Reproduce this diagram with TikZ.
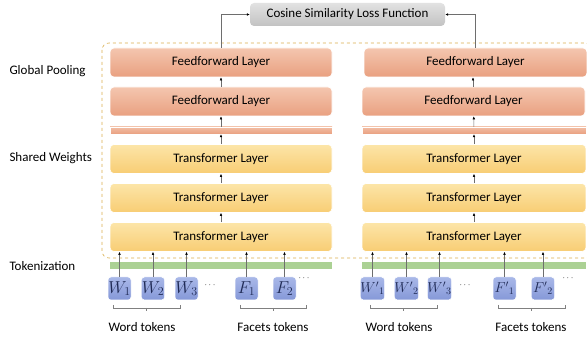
\documentclass[tikz,border=0pt]{standalone}
\usepackage{fontspec}
\setmainfont{Carlito}
\definecolor{ffTop}{HTML}{F4C6AF}
\definecolor{ffBot}{HTML}{E9A080}
\definecolor{trTop}{HTML}{FCE5A8}
\definecolor{trBot}{HTML}{F8CD74}
\definecolor{tkTop}{HTML}{A9B8E8}
\definecolor{tkBot}{HTML}{8598D8}
\definecolor{tkText}{HTML}{1F2A55}
\definecolor{tokbar}{HTML}{ABD194}
\definecolor{cosTop}{HTML}{E2E2E2}
\definecolor{cosBot}{HTML}{C2C2C2}
\definecolor{dashbox}{HTML}{D9AE4C}
\definecolor{arrowgray}{HTML}{6E6E6E}
\tikzset{
	layer/.style={rounded corners=4pt, draw=white, line width=0.6pt, inner sep=0pt, minimum width=222, minimum height=29, font=\fontsize{13}{15}\selectfont},
	fflayer/.style={layer, top color=ffTop, bottom color=ffBot},
	trlayer/.style={layer, top color=trTop, bottom color=trBot},
	poolbar/.style={draw=white, line width=0.4pt, inner sep=0pt, minimum width=222, minimum height=7, top color=ffTop!80!ffBot, bottom color=ffBot},
	greenbar/.style={fill=tokbar, inner sep=0pt, minimum width=222, minimum height=7},
	token/.style={rounded corners=3pt, draw=white, line width=0.5pt, inner sep=0pt, minimum size=23, top color=tkTop, bottom color=tkBot, text=tkText, font=\fontsize{17}{19}\selectfont},
	ptoken/.style={token, font=\fontsize{14.5}{17}\selectfont},
	flow/.style={draw=arrowgray, line width=0.5pt, -{Latex[length=3pt,width=2.6pt,black]}},
	bracket/.style={draw=gray, line width=0.5pt},
	label/.style={font=\fontsize{13}{15}\selectfont}
}
\usetikzlibrary{arrows.meta}
\begin{document}
\begin{tikzpicture}[x=1pt, y=-1pt]
	\useasboundingbox (0,0) rectangle (587,339);
	% outer dashed frame
	\draw[dashbox, dashed, line width=0.6pt, rounded corners=7pt] (102,43) rectangle (592,258);

	\node[rounded corners=4pt, inner sep=0pt, minimum width=195, minimum height=23, top color=cosTop, bottom color=cosBot, font=\fontsize{13}{15}\selectfont] (cos) at (347.5,14.5) {Cosine Similarity Loss Function};

	\node[label, anchor=west] (pool) at (6,71) {Global Pooling};
	\node[label, anchor=west] (shared) at (6,158) {Shared Weights};
	\node[label, anchor=west] (tokz) at (6,266) {Tokenization};

	% left tower
	\node[fflayer] (ffA) at (221,62.5) {Feedforward Layer};
	\node[fflayer] (ffB) at (221,101.5) {Feedforward Layer};
	\node[poolbar] (pl) at (221,130.5) {};
	\node[trlayer] (trA) at (221,159) {Transformer Layer};
	\node[trlayer] (trB) at (221,198) {Transformer Layer};
	\node[trlayer] (trC) at (221,237) {Transformer Layer};
	\node[greenbar] (gl) at (221,265.5) {};

	% right tower
	\node[fflayer, minimum width=223] (ffA') at (475.5,62.5) {Feedforward Layer};
	\node[fflayer, minimum width=223] (ffB') at (473.5,101.5) {Feedforward Layer};
	\node[poolbar, minimum width=224] (pl') at (474,130.5) {};
	\node[trlayer, minimum width=224] (trA') at (474,159) {Transformer Layer};
	\node[trlayer, minimum width=224] (trB') at (474,198) {Transformer Layer};
	\node[trlayer, minimum width=224] (trC') at (474,237) {Transformer Layer};
	\node[greenbar, minimum width=224] (gr) at (474,265.5) {};

	% tokens
	\node[token] (w1) at (119.5,288.5) {$W_1$};
	\node[token] (w2) at (153,288.5) {$W_2$};
	\node[token] (w3) at (186.5,288.5) {$W_3$};
	\node[token] (f1) at (246.5,288.5) {$F_1$};
	\node[token] (f2) at (284.5,288.5) {$F_2$};
	\node[ptoken] (w1') at (372.5,288.5) {$W'{}_1$};
	\node[ptoken] (w2') at (406.5,288.5) {$W'{}_2$};
	\node[ptoken] (w3') at (439.5,288.5) {$W'{}_3$};
	\node[ptoken] (f1') at (504.5,288.5) {$F'{}_1$};
	\node[ptoken] (f2') at (543,288.5) {$F'{}_2$};
	\node[font=\small] (d1) at (210,285) {$\cdots$};
	\node[font=\small] (d2) at (304,278) {$\cdots$};
	\node[font=\small] (d3) at (465,285) {$\cdots$};
	\node[font=\small] (d4) at (568,278) {$\cdots$};

	% token arrows
	\foreach \t in {w1,w2,w3,f1,f2}
		\draw[flow] (\t.north) -- (\t.north |- trC.south);
	\foreach \t in {w1',w2',w3',f1',f2'}
		\draw[flow] (\t.north) -- (\t.north |- trC'.south);

	% layer arrows
	\draw[flow] (trC) -- (trB);
	\draw[flow] (trB) -- (trA);
	\draw[flow] (trA) -- (pl);
	\draw[flow] (pl) -- (ffB);
	\draw[flow] (ffB) -- (ffA);
	\draw[flow] (trC') -- (trB');
	\draw[flow] (trB') -- (trA');
	\draw[flow] (trA') -- (pl');
	\draw[flow] (pl') -- (ffB');
	\draw[flow] ([xshift=-0.5pt]ffB'.north) -- ([xshift=-0.5pt]ffB'.north |- ffA'.south);
	\draw[flow] (ffA.north) |- (cos.west);
	\draw[flow] (ffA'.north) |- (cos.east);

	% brackets
	\draw[bracket] (113,305) -- (113,308) -- (180,308) -- (180,305) (146.5,308) -- (146.5,311);
	\draw[bracket] (240,305) -- (240,308) -- (306,308) -- (306,305) (273,308) -- (273,311);
	\draw[bracket] (370,305) -- (370,308) -- (437,308) -- (437,305) (403.5,308) -- (403.5,311);
	\draw[bracket] (498,305) -- (498,308) -- (565,308) -- (565,305) (531.5,308) -- (531.5,311);
	\node[label] (wt) at (142,327) {Word tokens};
	\node[label] (ft) at (273,327) {Facets tokens};
	\node[label] (wt') at (399,327) {Word tokens};
	\node[label] (ft') at (531,327) {Facets tokens};
\end{tikzpicture}
\end{document}
